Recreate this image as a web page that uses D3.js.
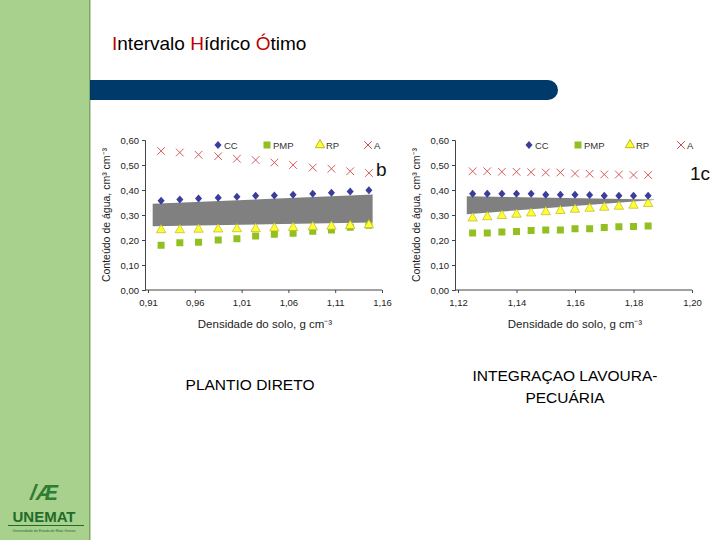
<!DOCTYPE html>
<html><head><meta charset="utf-8">
<script src="https://cdn.jsdelivr.net/npm/d3@7"></script>
<style>body{margin:0}svg{font-family:"Liberation Sans",Arial,sans-serif}</style>
</head><body><div id="slide"></div>
<script>
// left chart (plantio direto)
var xLeft = [0.924,0.944,0.964,0.985,1.005,1.025,1.045,1.065,1.086,1.106,1.126,1.146];
var ccLeft = [0.357,0.362,0.366,0.369,0.373,0.377,0.378,0.381,0.385,0.389,0.394,0.399];
var pmpLeft = [0.179,0.189,0.191,0.200,0.205,0.216,0.223,0.227,0.235,0.240,0.251,0.259];
var rpLeft = [0.240,0.240,0.242,0.243,0.244,0.245,0.247,0.249,0.252,0.254,0.257,0.260];
var aLeft = [0.556,0.550,0.541,0.535,0.525,0.520,0.510,0.500,0.490,0.485,0.475,0.468];
var bandLeftX = [0.915,1.150];
var bandLeftTop = [0.345,0.382];
var bandLeftBot = [0.255,0.270];
var ticksLeftX = [0.91,0.96,1.01,1.06,1.11,1.16];

// right chart (integracao lavoura-pecuaria)
var xRight = [1.125,1.130,1.135,1.140,1.145,1.150,1.155,1.160,1.165,1.170,1.175,1.180,1.185];
var ccRight = [0.385,0.385,0.385,0.385,0.385,0.381,0.381,0.381,0.380,0.377,0.377,0.377,0.377];
var pmpRight = [0.228,0.228,0.232,0.234,0.238,0.240,0.240,0.245,0.245,0.250,0.253,0.254,0.256];
var rpRight = [0.287,0.292,0.297,0.302,0.307,0.312,0.317,0.322,0.326,0.330,0.334,0.338,0.345];
var aRight = [0.475,0.475,0.473,0.473,0.471,0.470,0.470,0.466,0.465,0.462,0.462,0.460,0.460];
var bandRightX = [1.123,1.187];
var bandRightTop = [0.375,0.362];
var bandRightBot = [0.303,0.360];
var ticksRightX = [1.12,1.14,1.16,1.18,1.20];
var ticksY = [0,0.1,0.2,0.3,0.4,0.5,0.6];
var legendNames = ["CC","PMP","RP","A"];

var svg = d3.select("#slide").append("svg").attr("width",720).attr("height",540);
svg.append("rect").attr("width",720).attr("height",540).attr("fill","#fff");
svg.append("rect").attr("width",89).attr("height",540).attr("fill","#a9d18e");
svg.append("rect").attr("x",89).attr("width",1.5).attr("height",540).attr("fill","#7fa866");
svg.append("path").attr("d","M90,80 H548 A10,10 0 0 1 548,100 H90 Z").attr("fill","#003a6b");

var title = svg.append("text").attr("x",112).attr("y",50).attr("font-size",19).attr("fill","#000");
[["I","#c00000"],["ntervalo ","#000"],["H","#c00000"],["ídrico ","#000"],["Ó","#c00000"],["timo","#000"]]
  .forEach(p => title.append("tspan").attr("fill",p[1]).text(p[0]));

// logo
var logo = svg.append("g");
logo.append("text").attr("x",44).attr("y",500).attr("text-anchor","middle").attr("font-size",22)
  .attr("font-weight","bold").attr("fill","#2e7d32").attr("font-style","italic").text("/\u00C6");
logo.append("text").attr("x",44).attr("y",522).attr("text-anchor","middle").attr("font-size",15)
  .attr("font-weight","bold").attr("fill","#1f6b2a").text("UNEMAT");
logo.append("rect").attr("x",8).attr("y",525).attr("width",76).attr("height",1).attr("fill","#1f6b2a");
logo.append("text").attr("x",44).attr("y",532).attr("text-anchor","middle").attr("font-size",3.5)
  .attr("fill","#1f6b2a").text("Universidade do Estado de Mato Grosso");

var diamond = d3.symbol().type({draw: (c, s) => { var r = Math.sqrt(s) / 2;
  c.moveTo(0,-r*1.1); c.lineTo(r,0); c.lineTo(0,r*1.1); c.lineTo(-r,0); c.closePath(); }}).size(50);
var tri = d3.symbol().type(d3.symbolTriangle).size(38);
var cross = d3.symbol().type(d3.symbolTimes).size(40);

function chart(cfg) {
  var g = svg.append("g");
  var x = d3.scaleLinear().domain(cfg.xd).range([cfg.x0, cfg.x1]);
  var y = d3.scaleLinear().domain([0,0.6]).range([290,140]);
  var fmt = (d, n) => d.toFixed(n).replace(".", ",");

  var area = d3.area().x((d,i) => x(cfg.bx[i])).y0((d,i) => y(cfg.bb[i])).y1(d => y(d));
  g.append("path").attr("d", area(cfg.bt)).attr("fill","#808080");

  var xa = g.append("g").attr("transform","translate(0,290)")
    .call(d3.axisBottom(x).tickValues(cfg.xt).tickSize(3).tickFormat(d => fmt(d,2)));
  var ya = g.append("g").attr("transform",`translate(${cfg.x0 - 3},0)`)
    .call(d3.axisLeft(y).tickValues(ticksY).tickSize(3).tickFormat(d => fmt(d,2)));
  xa.select(".domain").attr("d", `M${cfg.x0 - 3},0H${cfg.x1}`);
  [xa, ya].forEach(a => { a.selectAll("text").attr("font-size",9.5).attr("fill","#222").attr("font-family","Liberation Sans");
    a.selectAll("line,path").attr("stroke","#444"); });
  xa.selectAll("text").attr("dy","1.1em");

  var pts = i => cfg.xs.map((v,j) => [x(v), y(cfg.series[i][j])]);
  g.selectAll(".pmp").data(pts(1)).enter().append("rect")
    .attr("x", d => d[0]-3.5).attr("y", d => d[1]-3.5).attr("width",7).attr("height",7).attr("fill","#92c020");
  g.selectAll(".rp").data(pts(2)).enter().append("path").attr("d", tri)
    .attr("transform", d => `translate(${d[0]},${d[1]})`).attr("fill","#ffff33").attr("stroke","#b8b820").attr("stroke-width",0.7);
  g.selectAll(".cc").data(pts(0)).enter().append("path").attr("d", diamond)
    .attr("transform", d => `translate(${d[0]},${d[1]})`).attr("fill","#3a3d9a");
  g.selectAll(".a").data(pts(3)).enter().append("path").attr("d", cross)
    .attr("transform", d => `translate(${d[0]},${d[1]})`).attr("fill","none").attr("stroke","#d04a4a").attr("stroke-width",0.9);

  // legend
  var lx = cfg.legX;
  legendNames.forEach((n,i) => {
    var px = lx[i], py = 145;
    var sym = [diamond, null, tri, cross][i];
    if (i === 1) g.append("rect").attr("x",px-3.5).attr("y",py-3.5).attr("width",7).attr("height",7).attr("fill","#92c020");
    else g.append("path").attr("d", sym).attr("transform",`translate(${px},${py})`)
      .attr("fill", ["#3a3d9a",null,"#ffff33","none"][i]).attr("stroke", i===2?"#b8b820":i===3?"#d04a4a":"none");
    g.append("text").attr("x",px+6).attr("y",py+3.5).attr("font-size",9.5).attr("fill","#333").text(n);
  });
  g.append("text").attr("x",cfg.tagX).attr("y",cfg.tagY).attr("font-size",19).attr("fill","#111").text(cfg.tag);

  g.append("text").attr("transform",`translate(${cfg.x0 - 38},215) rotate(-90)`).attr("text-anchor","middle")
    .attr("font-size",10.5).attr("fill","#222").text("Conteúdo de água, cm³ cm⁻³");
  g.append("text").attr("x",(cfg.x0+cfg.x1)/2).attr("y",328).attr("text-anchor","middle")
    .attr("font-size",11.5).attr("fill","#222").text("Densidade do solo, g cm⁻³");
}

chart({xd:[0.91,1.16], x0:148, x1:382, xs:xLeft, series:[ccLeft,pmpLeft,rpLeft,aLeft],
  bx:bandLeftX, bt:bandLeftTop, bb:bandLeftBot, xt:ticksLeftX, legX:[218,267,320,368], tag:"b", tagX:376, tagY:176});
chart({xd:[1.12,1.20], x0:458, x1:692, xs:xRight, series:[ccRight,pmpRight,rpRight,aRight],
  bx:bandRightX, bt:bandRightTop, bb:bandRightBot, xt:ticksRightX, legX:[529,578,630,681], tag:"1c", tagX:690, tagY:180});

svg.append("text").attr("x",250).attr("y",390).attr("text-anchor","middle").attr("font-size",15.5).text("PLANTIO DIRETO");
svg.append("text").attr("x",565).attr("y",381).attr("text-anchor","middle").attr("font-size",15.5).text("INTEGRAÇAO LAVOURA-");
svg.append("text").attr("x",565).attr("y",403).attr("text-anchor","middle").attr("font-size",15.5).text("PECUÁRIA");
</script></body></html>
